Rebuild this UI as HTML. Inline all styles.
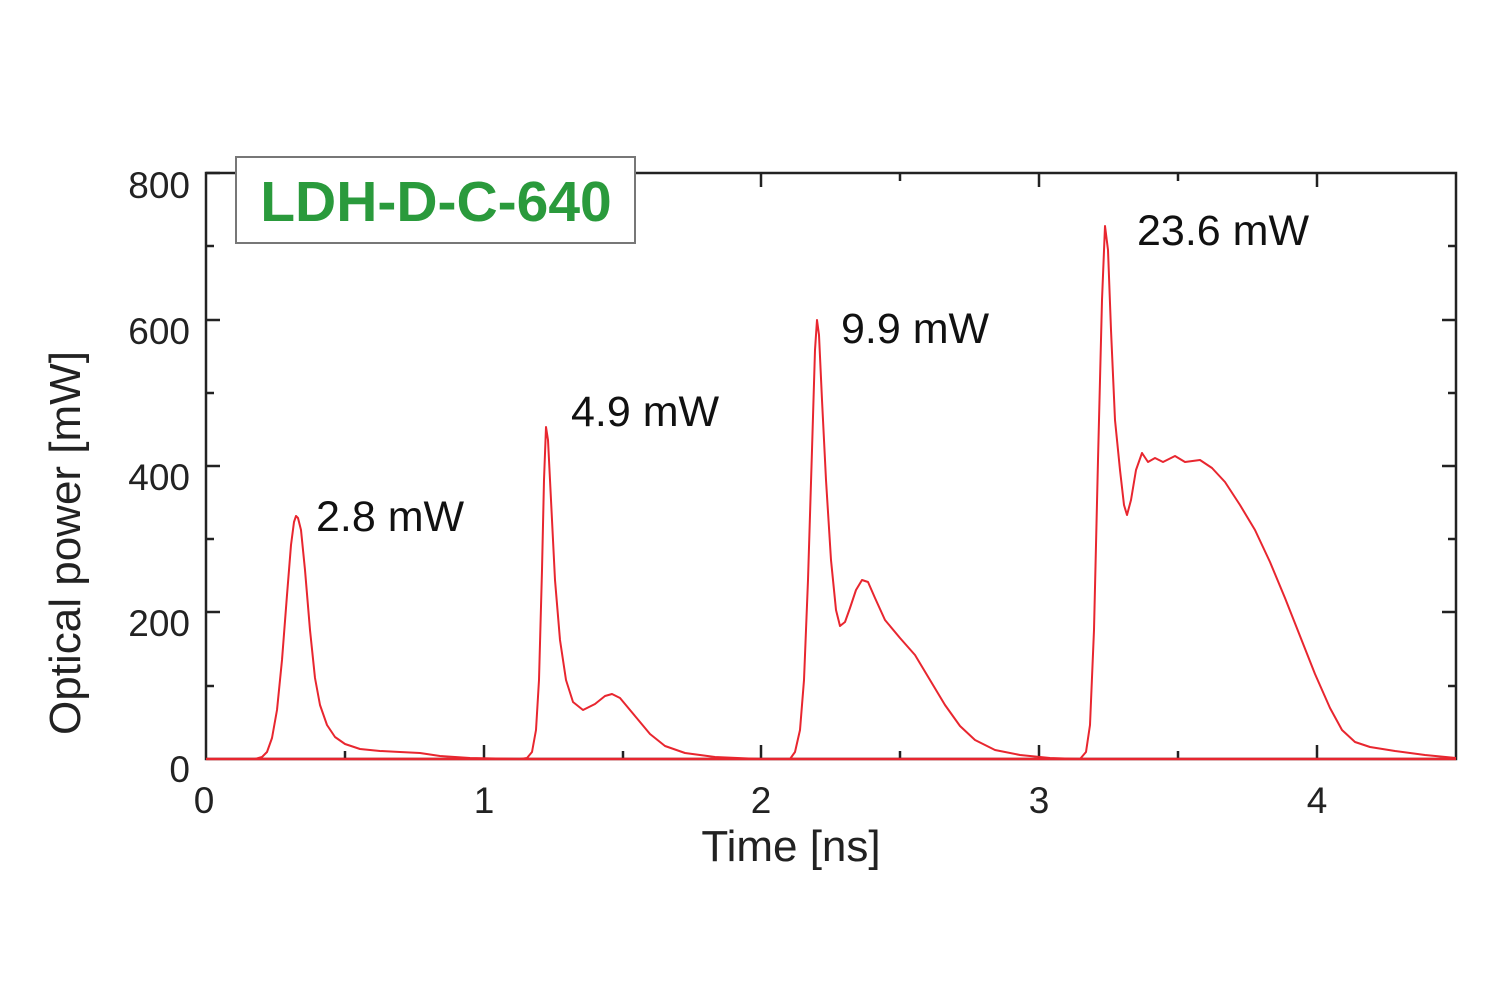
<!DOCTYPE html>
<html><head><meta charset="utf-8"><style>body{margin:0;background:#fff}svg{display:block}</style></head>
<body>
<svg width="1500" height="1000" viewBox="0 0 1500 1000" xmlns="http://www.w3.org/2000/svg" font-family="Liberation Sans, sans-serif">
<rect x="206" y="173" width="1250" height="586" fill="none" stroke="#222" stroke-width="2.5"/>
<g stroke="#222" stroke-width="2.5">
<line x1="206" y1="173" x2="220" y2="173"/><line x1="206" y1="246" x2="214" y2="246"/>
<line x1="206" y1="320" x2="220" y2="320"/><line x1="206" y1="393" x2="214" y2="393"/>
<line x1="206" y1="466" x2="220" y2="466"/><line x1="206" y1="539" x2="214" y2="539"/>
<line x1="206" y1="612" x2="220" y2="612"/><line x1="206" y1="686" x2="214" y2="686"/>
<line x1="1456" y1="246" x2="1448" y2="246"/><line x1="1456" y1="320" x2="1442" y2="320"/>
<line x1="1456" y1="393" x2="1448" y2="393"/><line x1="1456" y1="466" x2="1442" y2="466"/>
<line x1="1456" y1="539" x2="1448" y2="539"/><line x1="1456" y1="612" x2="1442" y2="612"/>
<line x1="1456" y1="686" x2="1448" y2="686"/>
<line x1="345" y1="759" x2="345" y2="751"/><line x1="484" y1="759" x2="484" y2="745"/>
<line x1="623" y1="759" x2="623" y2="751"/><line x1="761" y1="759" x2="761" y2="745"/>
<line x1="900" y1="759" x2="900" y2="751"/><line x1="1039" y1="759" x2="1039" y2="745"/>
<line x1="1178" y1="759" x2="1178" y2="751"/><line x1="1317" y1="759" x2="1317" y2="745"/>
<line x1="345" y1="173" x2="345" y2="181"/><line x1="484" y1="173" x2="484" y2="187"/>
<line x1="623" y1="173" x2="623" y2="181"/><line x1="761" y1="173" x2="761" y2="187"/>
<line x1="900" y1="173" x2="900" y2="181"/><line x1="1039" y1="173" x2="1039" y2="187"/>
<line x1="1178" y1="173" x2="1178" y2="181"/><line x1="1317" y1="173" x2="1317" y2="187"/>
</g>
<g font-size="37" fill="#222" text-anchor="end">
<text x="190" y="198">800</text><text x="190" y="344">600</text><text x="190" y="490">400</text><text x="190" y="636">200</text><text x="190" y="782">0</text>
</g>
<g font-size="37" fill="#222" text-anchor="middle">
<text x="204" y="813">0</text><text x="484" y="813">1</text><text x="761" y="813">2</text><text x="1039" y="813">3</text><text x="1317" y="813">4</text>
</g>
<text x="791" y="861" font-size="44" fill="#222" text-anchor="middle">Time [ns]</text>
<text transform="translate(80,543) rotate(-90)" font-size="44" fill="#222" text-anchor="middle">Optical power [mW]</text>
<polyline fill="none" stroke="#e8262f" stroke-width="2" stroke-linejoin="round" points="206,759 255,759 262,757 267,752 272,738 277,710 282,660 287,595 291,545 294,522 296,516 298,518 301,530 305,570 310,630 315,678 320,705 327,725 335,737 345,744 360,749 380,751 400,752 420,753 440,756 470,758 520,759 527,758 532,752 536,730 539,680 542,570 544,480 546,427 548,440 551,500 555,580 560,640 566,680 573,702 583,710 595,704 605,696 612,694 620,698 630,710 640,722 650,734 665,746 685,753 715,757 760,759 790,759 795,752 800,730 804,680 808,580 812,450 815,350 817,320 819,335 822,400 826,480 831,560 836,610 840,626 845,622 850,608 856,590 862,580 868,582 875,598 885,620 900,638 915,655 930,680 945,705 960,726 975,740 995,750 1020,755 1050,758 1080,759 1086,752 1090,725 1094,630 1098,460 1102,300 1105,226 1108,250 1111,330 1115,420 1120,470 1124,505 1127,515 1131,500 1136,470 1142,453 1148,462 1155,458 1163,462 1175,456 1185,462 1200,460 1212,468 1225,482 1240,505 1255,530 1270,562 1285,598 1300,636 1315,674 1330,708 1342,730 1355,742 1370,747 1395,751 1425,755 1456,758"/>
<line x1="206" y1="759" x2="1456" y2="759" stroke="#e8262f" stroke-width="2.5"/>
<g font-size="43" fill="#111">
<text x="316" y="531">2.8 mW</text><text x="571" y="426">4.9 mW</text><text x="841" y="343">9.9 mW</text><text x="1137" y="245">23.6 mW</text>
</g>
<rect x="236" y="157" width="399" height="86" fill="#fff" stroke="#777" stroke-width="2"/>
<text x="436" y="221" font-size="57" font-weight="bold" fill="#2a9a3c" text-anchor="middle">LDH-D-C-640</text>
</svg>
</body></html>
